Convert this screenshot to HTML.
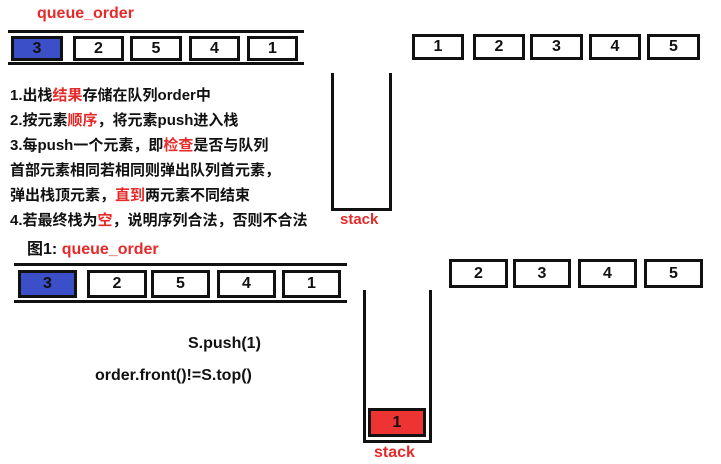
<!DOCTYPE html>
<html><head><meta charset="utf-8"><style>
body{margin:0;width:721px;height:464px;background:#fff;position:relative;overflow:hidden;font-family:"Liberation Sans","Noto Sans CJK SC",sans-serif;font-weight:bold}
.a{position:absolute}
.b{position:absolute;border:3px solid #111;box-sizing:border-box;background:#fff;text-align:center;font-size:16px;color:#111}
.l{position:absolute;background:#111}
.t{position:absolute;font-size:15px;color:#111;white-space:nowrap}
.r{color:#e52a2a !important}
</style></head><body>
<div class="t r" style="left:37px;top:5px;font-size:16px">queue_order</div>
<div class="l" style="left:8px;top:30px;width:296px;height:3px"></div>
<div class="l" style="left:8px;top:62px;width:296px;height:3px"></div>
<div class="b" style="left:11px;top:36px;width:52px;height:25px;line-height:19px;background:#3a4fc8">3</div>
<div class="b" style="left:73px;top:36px;width:51px;height:25px;line-height:19px">2</div>
<div class="b" style="left:130px;top:36px;width:52px;height:25px;line-height:19px">5</div>
<div class="b" style="left:189px;top:36px;width:51px;height:25px;line-height:19px">4</div>
<div class="b" style="left:247px;top:36px;width:51px;height:25px;line-height:19px">1</div>

<div class="b" style="left:412px;top:34px;width:52px;height:26px;line-height:20px">1</div>
<div class="b" style="left:473px;top:34px;width:52px;height:26px;line-height:20px">2</div>
<div class="b" style="left:530px;top:34px;width:53px;height:26px;line-height:20px">3</div>
<div class="b" style="left:589px;top:34px;width:52px;height:26px;line-height:20px">4</div>
<div class="b" style="left:647px;top:34px;width:53px;height:26px;line-height:20px">5</div>

<div class="l" style="left:331px;top:73px;width:3px;height:138px"></div>
<div class="l" style="left:389px;top:73px;width:3px;height:138px"></div>
<div class="l" style="left:331px;top:208px;width:61px;height:3px"></div>
<div class="t r" style="left:340px;top:211px">stack</div>

<div class="t" style="left:10px;top:84px">1.出栈<span class="r">结果</span>存储在队列order中</div>
<div class="t" style="left:10px;top:109px">2.按元素<span class="r">顺序</span>，将元素push进入栈</div>
<div class="t" style="left:10px;top:134px">3.每push一个元素，即<span class="r">检查</span>是否与队列</div>
<div class="t" style="left:10px;top:159px">首部元素相同若相同则弹出队列首元素，</div>
<div class="t" style="left:10px;top:184px">弹出栈顶元素，<span class="r">直到</span>两元素不同结束</div>
<div class="t" style="left:10px;top:209px">4.若最终栈为<span class="r">空</span>，说明序列合法，否则不合法</div>

<div class="t" style="left:27px;top:235px;font-size:16px">图1: <span class="r">queue_order</span></div>
<div class="l" style="left:14px;top:263px;width:333px;height:3px"></div>
<div class="l" style="left:14px;top:300px;width:333px;height:3px"></div>
<div class="b" style="left:18px;top:270px;width:59px;height:28px;line-height:22px;background:#3a4fc8">3</div>
<div class="b" style="left:87px;top:270px;width:60px;height:28px;line-height:22px">2</div>
<div class="b" style="left:151px;top:270px;width:59px;height:28px;line-height:22px">5</div>
<div class="b" style="left:217px;top:270px;width:59px;height:28px;line-height:22px">4</div>
<div class="b" style="left:282px;top:270px;width:59px;height:28px;line-height:22px">1</div>

<div class="b" style="left:449px;top:259px;width:59px;height:29px;line-height:23px">2</div>
<div class="b" style="left:513px;top:259px;width:58px;height:29px;line-height:23px">3</div>
<div class="b" style="left:578px;top:259px;width:59px;height:29px;line-height:23px">4</div>
<div class="b" style="left:644px;top:259px;width:59px;height:29px;line-height:23px">5</div>

<div class="t" style="left:188px;top:335px;font-size:16px">S.push(1)</div>
<div class="t" style="left:95px;top:367px;font-size:16px">order.front()!=S.top()</div>

<div class="l" style="left:363px;top:290px;width:3px;height:153px"></div>
<div class="l" style="left:429px;top:290px;width:3px;height:153px"></div>
<div class="l" style="left:363px;top:440px;width:69px;height:3px"></div>
<div class="b" style="left:368px;top:408px;width:58px;height:29px;line-height:23px;background:#ee3333">1</div>
<div class="t r" style="left:374px;top:444px;font-size:16px">stack</div>
</body></html>
